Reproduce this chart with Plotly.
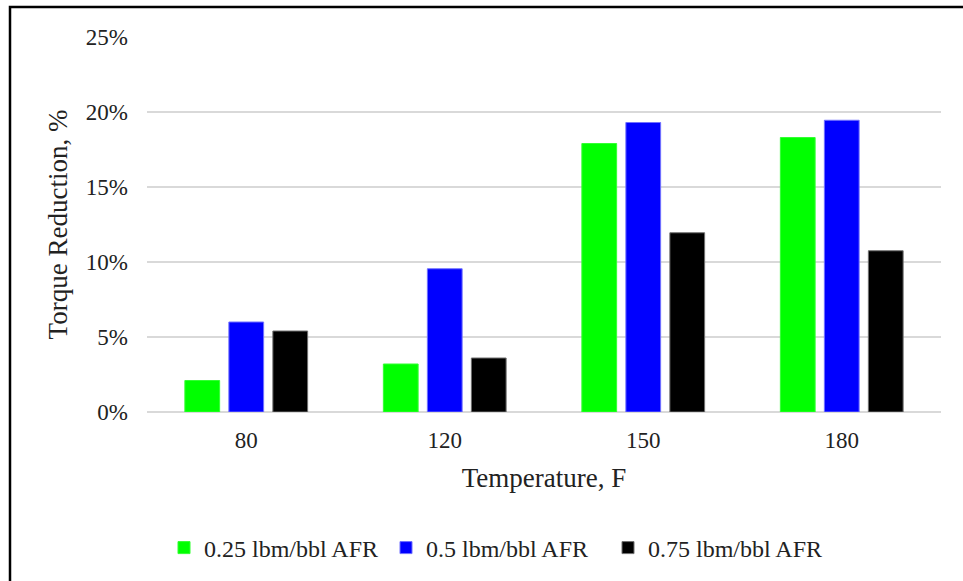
import plotly.graph_objects as go

# Torque reduction vs temperature for three AFR concentrations
temperatures = ["80", "120", "150", "180"]
afr_025 = [2.1, 3.2, 17.9, 18.3]
afr_050 = [6.0, 9.55, 19.3, 19.45]
afr_075 = [5.4, 3.6, 11.95, 10.75]

series_names = ["0.25 lbm/bbl AFR", "0.5 lbm/bbl AFR", "0.75 lbm/bbl AFR"]
series_colors = ["#00ff00", "#0000ff", "#000000"]
edge_colors = ["#33ff33", "#7070ff", "#707070"]

y_ticks = [0, 5, 10, 15, 20, 25]
y_tick_labels = ["0%", "5%", "10%", "15%", "20%", "25%"]

FONT = "Liberation Serif, Times New Roman, serif"
TEXT = "#222222"

fig = go.Figure()
for name, vals, col, edge in zip(series_names, [afr_025, afr_050, afr_075],
                                 series_colors, edge_colors):
    fig.add_trace(go.Bar(
        x=temperatures, y=vals, name=name,
        marker=dict(color=col, line=dict(color=edge, width=1)),
    ))

W, H = 963, 581
ML, MR, MT, MB = 147, 22, 37, 169
pw, ph = W - ML - MR, H - MT - MB

def px_x(p):
    return (p - ML) / pw

def px_y(p):
    return (H - MB - p) / ph

fig.update_layout(
    width=W, height=H,
    margin=dict(l=ML, r=MR, t=MT, b=MB, autoexpand=False),
    paper_bgcolor="white", plot_bgcolor="white",
    barmode="group", bargap=0.335, bargroupgap=0.21,
    font=dict(family=FONT, size=23, color=TEXT),
    showlegend=True,
    legend=dict(
        orientation="h", x=px_x(164), xanchor="left",
        y=px_y(548), yanchor="middle",
        font=dict(family=FONT, size=24, color=TEXT),
        itemwidth=30, entrywidth=177, entrywidthmode="pixels",
        bgcolor="rgba(0,0,0,0)",
    ),
    xaxis=dict(
        type="category", showgrid=False, zeroline=False, showline=False,
        ticks="", ticklabelstandoff=12,
        tickfont=dict(family=FONT, size=23, color=TEXT),
        title=dict(text="Temperature, F", standoff=16,
                   font=dict(family=FONT, size=27, color=TEXT)),
    ),
    yaxis=dict(
        range=[0, 25], tickmode="array", tickvals=y_ticks, ticktext=y_tick_labels,
        showgrid=True, gridcolor="#d9d9d9", gridwidth=1.5,
        zeroline=True, zerolinecolor="#d9d9d9", zerolinewidth=1.5,
        showline=False, ticks="", ticklabelstandoff=18,
        tickfont=dict(family=FONT, size=23, color=TEXT),
        title=dict(text="Torque Reduction, %", standoff=10,
                   font=dict(family=FONT, size=27, color=TEXT)),
    ),
    shapes=[dict(
        type="rect", xref="paper", yref="paper",
        x0=px_x(10), x1=px_x(970), y0=px_y(590), y1=px_y(7),
        line=dict(color="black", width=2.5), fillcolor="rgba(0,0,0,0)",
        layer="below",
    )],
)

fig.write_html("out.html")
